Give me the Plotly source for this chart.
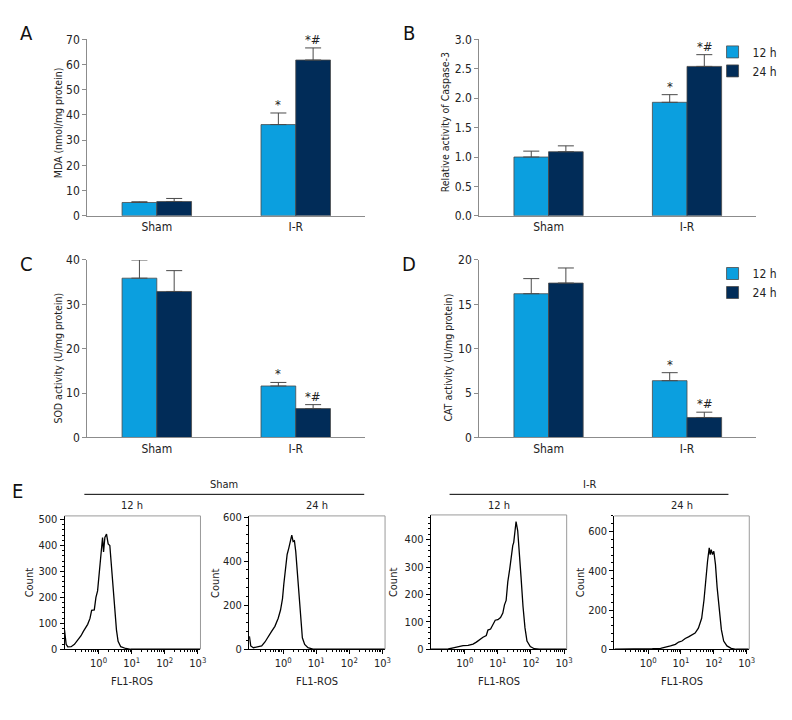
import plotly.graph_objects as go

W, H = 792, 720


def px(x):
    return x / W


def py(y):
    return 1 - y / H


FONT = "Liberation Sans Narrow, DejaVu Sans Condensed, Roboto Condensed, Roboto, sans-serif"

# ---------------- data ----------------
groups = ["Sham", "I-R"]
series = ["12 h", "24 h"]
colors = ["#0b9fdf", "#012c58"]

mda_12 = [5.3, 36.2]
mda_12_err = [0.3, 4.6]
mda_24 = [5.7, 61.8]
mda_24_err = [1.2, 4.8]

casp_12 = [1.00, 1.93]
casp_12_err = [0.10, 0.13]
casp_24 = [1.09, 2.54]
casp_24_err = [0.10, 0.20]

sod_12 = [35.9, 11.6]
sod_12_err = [4.1, 0.8]
sod_24 = [32.9, 6.5]
sod_24_err = [4.7, 0.9]

cat_12 = [16.2, 6.4]
cat_12_err = [1.7, 0.9]
cat_24 = [17.4, 2.25]
cat_24_err = [1.7, 0.6]

sig_12 = ["", "*"]
sig_24 = ["", "*#"]

# flow cytometry histograms: log10(FL1-ROS) and counts
sham12_log = [-1.03, -0.98, -0.93, -0.83, -0.73, -0.63, -0.53, -0.46, -0.38, -0.33, -0.26, -0.21,
              -0.13, -0.08, -0.03, 0.02, 0.05, 0.09, 0.12, 0.15, 0.19, 0.24, 0.29, 0.34, 0.39,
              0.44, 0.49, 0.54, 0.59, 0.67, 0.82, 0.97, 3.07]
sham12_cnt = [75, 19, 9, 10, 19, 34, 52, 69, 88, 96, 119, 150, 152, 200, 225, 288, 325, 375, 431,
              375, 431, 444, 406, 400, 312, 212, 125, 75, 31, 10, 3, 0, 0]

sham24_log = [-1.02, -0.98, -0.90, -0.75, -0.65, -0.55, -0.45, -0.35, -0.25, -0.15, -0.08, -0.02,
              0.02, 0.07, 0.12, 0.17, 0.22, 0.26, 0.30, 0.34, 0.38, 0.43, 0.48, 0.53, 0.58, 0.65,
              0.75, 0.90, 3.08]
sham24_cnt = [59, 15, 7, 10, 15, 33, 59, 81, 104, 141, 178, 230, 296, 370, 430, 459, 496, 518, 489,
              492, 444, 341, 222, 118, 52, 22, 7, 1, 0]

ir12_log = [-1.02, -0.65, -0.50, -0.35, -0.20, -0.05, 0.10, 0.25, 0.35, 0.45, 0.55, 0.65, 0.70,
            0.78, 0.85, 0.92, 1.00, 1.08, 1.15, 1.20, 1.25, 1.30, 1.36, 1.40, 1.45, 1.48, 1.52,
            1.55, 1.60, 1.65, 1.70, 1.76, 1.82, 1.88, 1.98, 2.10, 2.25, 3.10]
ir12_cnt = [0, 0, 1, 5, 10, 13, 14, 19, 26, 36, 44, 50, 70, 74, 90, 106, 108, 116, 132, 162, 178,
            246, 294, 342, 378, 390, 432, 466, 432, 360, 264, 156, 78, 30, 10, 2, 0, 0]

ir24_log = [-1.02, 0.08, 0.13, 0.38, 0.53, 0.68, 0.83, 0.93, 1.03, 1.13, 1.23, 1.33, 1.43, 1.53,
            1.63, 1.70, 1.76, 1.81, 1.86, 1.89, 1.92, 1.96, 2.00, 2.05, 2.10, 2.16, 2.23, 2.30,
            2.40, 2.53, 2.68, 3.06]
ir24_cnt = [0, 0, 3, 5, 10, 17, 25, 37, 42, 55, 63, 75, 83, 108, 158, 250, 367, 450, 517, 483,
            508, 483, 500, 433, 317, 200, 100, 42, 17, 5, 0, 0]

hist_titles = ["12 h", "24 h", "12 h", "24 h"]
fl_tickvals = [1, 10, 100, 1000]
fl_ticktext = ["10<sup>0</sup>", "10<sup>1</sup>", "10<sup>2</sup>", "10<sup>3</sup>"]

# ---------------- figure ----------------
fig = go.Figure()

bar_panels = [
    ("", mda_12, mda_12_err, mda_24, mda_24_err, "MDA (nmol/mg protein)", [0, 70], 10, None),
    ("2", casp_12, casp_12_err, casp_24, casp_24_err, "Relative activity of Caspase-3", [0, 3.0], 0.5, "legend"),
    ("3", sod_12, sod_12_err, sod_24, sod_24_err, "SOD activity (U/mg protein)", [0, 40], 10, None),
    ("4", cat_12, cat_12_err, cat_24, cat_24_err, "CAT activity (U/mg protein)", [0, 20], 5, "legend2"),
]

bar_boxes = [(88, 368, 33, 213), (483, 762, 33, 213), (88, 368, 258, 439), (483, 762, 258, 439)]
ytitle_pos = [(58, 118), (448, 118), (58, 358), (451, 358)]
letters = [("A", 27, 27), ("B", 412, 27), ("C", 27, 262), ("D", 412, 262), ("E", 18, 494)]

annotations = []
shapes = []
layout = {}


def note(x, y, text, size=11, angle=0, color="#222"):
    return dict(x=px(x), y=py(y), xref="paper", yref="paper", text=text, textangle=angle,
                showarrow=False, xanchor="center", yanchor="middle",
                font=dict(size=size, family=FONT, color=color))


for (suf, v12, e12, v24, e24, ytitle, yr, dt, leg), box, tpos in zip(bar_panels, bar_boxes, ytitle_pos):
    xa = "x" + suf
    ya = "y" + suf
    for name, vals, errs, col, sig in ((series[0], v12, e12, colors[0], sig_12),
                                      (series[1], v24, e24, colors[1], sig_24)):
        tr = go.Bar(
            x=groups, y=vals, name=name, xaxis=xa, yaxis=ya,
            marker=dict(color=col, line=dict(color="#4a4a4a", width=0.8)),
            error_y=dict(type="data", array=errs, arrayminus=[0] * len(errs), symmetric=False,
                         color="#4a4a4a", thickness=1, width=8),
            showlegend=leg is not None,
        )
        if leg is not None:
            tr.legend = leg
        fig.add_trace(tr)
        shift = -17.5 if name == series[0] else 17.5
        for g, v, e, s in zip(groups, vals, errs, sig):
            if s:
                annotations.append(dict(x=g, y=v + e, xref=xa, yref=ya, text=s, showarrow=False,
                                        xshift=shift, xanchor="center", yanchor="bottom", yshift=-1,
                                        font=dict(size=13, color="#222", family=FONT)))
    x0, x1, yt, yb = box
    layout["xaxis" + suf] = dict(domain=[px(x0), px(x1)], anchor=ya, type="category",
                                 categoryorder="array", categoryarray=groups, range=[-0.5, 1.5],
                                 showline=True, linecolor="#8c8c8c", linewidth=1.2, ticks="",
                                 showgrid=False, zeroline=False,
                                 tickfont=dict(size=12, family=FONT, color="#222"))
    layout["yaxis" + suf] = dict(domain=[py(yb), py(yt)], anchor=xa, range=yr, dtick=dt,
                                 tickformat=".1f" if dt < 1 else "d",
                                 showline=True, linecolor="#8c8c8c", linewidth=1.2, ticks="outside",
                                 ticklen=4, tickcolor="#8c8c8c", showgrid=False, zeroline=False,
                                 tickfont=dict(size=12, family=FONT, color="#222"))
    annotations.append(note(tpos[0], tpos[1], ytitle, size=10.5, angle=-90))

# histograms
hist_data = [(sham12_log, sham12_cnt), (sham24_log, sham24_cnt), (ir12_log, ir12_cnt), (ir24_log, ir24_cnt)]
hist_boxes = [(65, 202, 519, 655), (251, 388, 519, 655), (434, 571, 518, 655), (619, 755, 519, 655)]
hist_yr = [[0, 514], [0, 605], [0, 490], [0, 680]]
hist_dt = [100, 200, 100, 200]
hist_minor = [20, 40, 20, 40]
count_x = [30, 217, 396, 585]

minor_x = [k * 10 ** e for e in (-1, 0, 1, 2) for k in range(2, 10)]

for i, ((lg, cnt), box, yr, dt, mdt, cx, ttl) in enumerate(
        zip(hist_data, hist_boxes, hist_yr, hist_dt, hist_minor, count_x, hist_titles)):
    suf = str(i + 5)
    xa, ya = "x" + suf, "y" + suf
    fig.add_trace(go.Scatter(x=[10 ** v for v in lg], y=cnt, mode="lines", xaxis=xa, yaxis=ya,
                             line=dict(color="black", width=1.3), showlegend=False))
    x0, x1, yt, yb = box
    layout["xaxis" + suf] = dict(domain=[px(x0), px(x1)], anchor=ya, type="log",
                                 range=[-1.03, 3.08], tickmode="array", tickvals=fl_tickvals,
                                 ticktext=fl_ticktext, ticks="outside", ticklen=4, tickcolor="black",
                                 minor=dict(tickmode="array", tickvals=minor_x, ticks="outside",
                                            ticklen=2, tickcolor="black"),
                                 showline=True, linecolor="black", linewidth=1, showgrid=False,
                                 zeroline=False, tickfont=dict(size=11, family=FONT, color="#222"))
    layout["yaxis" + suf] = dict(domain=[py(yb), py(yt)], anchor=xa, range=yr, dtick=dt,
                                 ticks="outside", ticklen=4, tickcolor="black",
                                 minor=dict(dtick=mdt, ticks="outside", ticklen=2, tickcolor="black"),
                                 showline=True, linecolor="black", linewidth=1, showgrid=False,
                                 zeroline=False, tickfont=dict(size=11, family=FONT, color="#222"))
    shapes.append(dict(type="line", xref=xa + " domain", yref=ya + " domain", x0=0, x1=1, y0=1, y1=1,
                       line=dict(color="#9a9a9a", width=1)))
    shapes.append(dict(type="line", xref=xa + " domain", yref=ya + " domain", x0=1, x1=1, y0=0, y1=1,
                       line=dict(color="#9a9a9a", width=1)))
    annotations.append(note((x0 + x1) / 2, 508, ttl))
    annotations.append(note(cx, (yt + yb) / 2, "Count", angle=-90))
    annotations.append(note((x0 + x1) / 2, 688, "FL1-ROS"))

# group lines for E
for label, xa0, xa1 in (("Sham", 85, 367), ("I-R", 453, 734)):
    shapes.append(dict(type="line", xref="paper", yref="paper", x0=px(xa0), x1=px(xa1),
                       y0=py(497), y1=py(497), line=dict(color="black", width=1)))
    annotations.append(note((xa0 + xa1) / 2, 487, label))

for t, lx, ly in letters:
    annotations.append(note(lx, ly, t, size=20, color="#111"))

fig.update_layout(
    width=W, height=H, autosize=False,
    margin=dict(l=0, r=0, t=0, b=0),
    paper_bgcolor="white", plot_bgcolor="white",
    barmode="group", bargap=0.5, bargroupgap=0,
    font=dict(family=FONT, size=12, color="#222"),
    legend=dict(x=px(718), y=py(31), xanchor="left", yanchor="top", tracegroupgap=0,
                bgcolor="rgba(0,0,0,0)", font=dict(size=12, family=FONT)),
    legend2=dict(x=px(718), y=py(257), xanchor="left", yanchor="top", tracegroupgap=0,
                 bgcolor="rgba(0,0,0,0)", font=dict(size=12, family=FONT)),
    annotations=annotations,
    shapes=shapes,
    **layout,
)

fig.write_html("out.html", config={"displayModeBar": False},
               post_script="document.body.style.margin='0px';")
